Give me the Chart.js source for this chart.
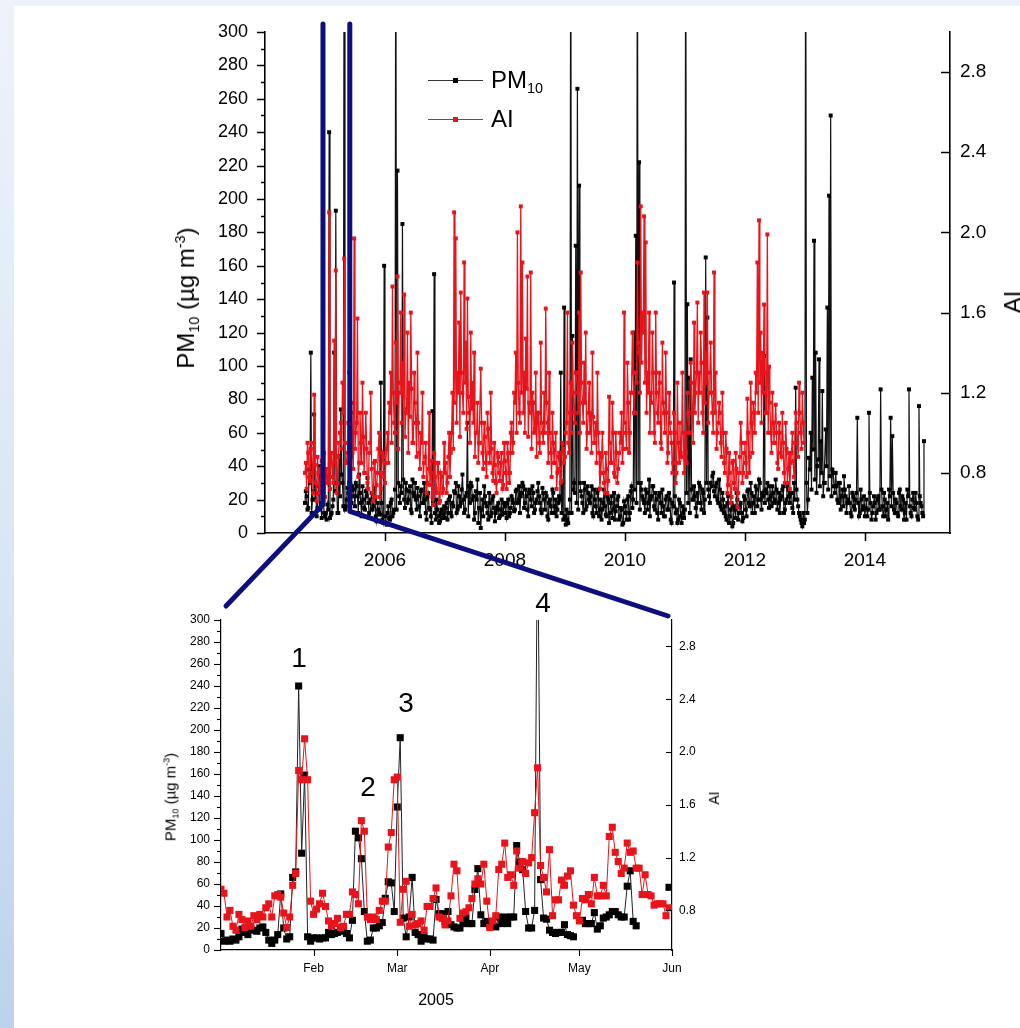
<!DOCTYPE html>
<html lang="en">
<head>
<meta charset="UTF-8">
<title>PM10 and aerosol index</title>
<script src="https://cdn.jsdelivr.net/npm/chart.js@4.4.1/dist/chart.umd.min.js"></script>
<style>
  html, body { margin: 0; padding: 0; }
  body {
    width: 1020px; height: 1028px; overflow: hidden; position: relative;
    background: linear-gradient(to bottom, #eef3fb 0%, #d9e6f5 55%, #bcd2ec 100%);
    font-family: 'Liberation Sans', Arial, sans-serif; color: #000;
  }
  .sheet { position: absolute; left: 14px; top: 6px; right: 0; bottom: 0; background: #fff; }
  canvas { position: absolute; left: 0; }
  #topChart { top: 0; }
  #zoomChart { top: 590px; }
  #links { top: 0; pointer-events: none; }
  .txt { position: absolute; white-space: nowrap; line-height: 1; }
  .vert { transform: translate(-50%, -50%) rotate(-90deg); }
  .mid { transform: translate(-50%, -50%); }
  .left { transform: translateY(-50%); }
  sub { font-size: 60%; line-height: 0; vertical-align: -0.35em; }
  sup { font-size: 60%; line-height: 0; vertical-align: 0.65em; }
  .key { position: absolute; height: 0; width: 55px; border-top: 1px solid; }
  .key i { position: absolute; left: 25px; top: -3px; width: 5px; height: 5px; }
</style>
</head>
<body>
<div class="sheet"></div>
<canvas id="topChart" width="1020" height="590"></canvas>
<canvas id="zoomChart" width="1020" height="438"></canvas>

<div class="txt vert" style="left:186px; top:298px; font-size:24px">PM<sub>10</sub> (µg m<sup>-3</sup>)</div>
<div class="txt vert" style="left:1013px; top:302px; font-size:24px">AI</div>

<div class="key" style="left:428px; top:80px; border-color:#333"><i style="background:#000"></i></div>
<div class="txt left" style="left:491px; top:80px; font-size:24px">PM<sub>10</sub></div>
<div class="key" style="left:428px; top:119px; border-color:#e3171d"><i style="background:#e3171d"></i></div>
<div class="txt left" style="left:491px; top:119px; font-size:24px">AI</div>

<div class="txt vert" style="left:170px; top:797px; font-size:15px">PM<sub>10</sub> (µg m<sup>-3</sup>)</div>
<div class="txt vert" style="left:714px; top:798px; font-size:14px">AI</div>
<div class="txt mid" style="left:436px; top:1000px; font-size:16px">2005</div>

<div class="txt mid" style="left:299px; top:658px; font-size:28px">1</div>
<div class="txt mid" style="left:368px; top:787px; font-size:28px">2</div>
<div class="txt mid" style="left:406px; top:703px; font-size:28px">3</div>
<div class="txt mid" style="left:543px; top:603px; font-size:28px">4</div>

<canvas id="links" width="1020" height="1028"></canvas>

<script>
// six samples per month from September 2004: "mid" values sit between the main ones
const topStart = 2004 + 8 / 12;

const pm10Top = [
  25, 14, 38, 108, 20, 71, 28, 15, 40, 18, 30, 12,
  12, 17, 240, 11, 16, 108, 193, 12, 46, 74, 30, 400, 16, 27, 30, 72, 28, 22, 30, 22, 35, 18, 28, 15, 25, 33, 12, 20, 14, 27, 10, 18, 12, 90, 8, 160,
  6, 12, 9, 18, 10, 14, 400, 217, 22, 28, 185, 20, 30, 18, 25, 14, 32, 22, 20, 27, 16, 25, 18, 30, 12, 22, 15, 10, 73, 155, 8, 14, 6, 12, 9, 16,
  15, 8, 20, 12, 18, 25, 30, 14, 22, 18, 35, 12, 22, 66, 28, 30, 20, 8, 25, 32, 15, 3, 20, 28, 18, 12, 24, 10, 20, 15, 12, 16, 9, 14, 11, 18,
  12, 18, 10, 15, 20, 13, 25, 18, 28, 22, 30, 15, 26, 14, 24, 20, 28, 12, 18, 25, 22, 14, 27, 20, 24, 10, 18, 16, 26, 12, 20, 14, 22, 96, 30, 135,
  5, 8, 12, 400, 118, 30, 172, 266, 208, 25, 18, 30, 14, 28, 20, 22, 12, 26, 16, 24, 10, 20, 14, 26, 11, 22, 6, 18, 9, 24, 13, 20, 8, 15, 5, 19,
  12, 20, 8, 25, 15, 120, 178, 400, 222, 30, 22, 18, 26, 14, 32, 20, 28, 16, 24, 12, 22, 18, 26, 10, 20, 14, 24, 8, 18, 150, 12, 6, 20, 10, 16, 9,
  400, 137, 93, 104, 20, 28, 15, 24, 30, 18, 26, 12, 165, 129, 22, 30, 34, 25, 28, 20, 32, 16, 24, 12, 10, 18, 6, 14, 4, 16, 9, 20, 12, 18, 7, 22,
  14, 25, 18, 30, 12, 22, 28, 16, 32, 20, 24, 106, 26, 30, 15, 22, 28, 18, 32, 14, 24, 20, 26, 12, 18, 28, 22, 24, 15, 30, 87, 20, 12, 8, 4, 6,
  400, 12, 45, 60, 93, 175, 108, 40, 104, 55, 85, 30, 62, 135, 202, 250, 38, 28, 36, 20, 30, 14, 26, 34, 22, 18, 28, 12, 24, 16, 20, 69, 10, 26, 14, 22,
  15, 10, 72, 18, 12, 22, 8, 20, 14, 86, 16, 24, 10, 18, 26, 69, 58, 14, 20, 12, 24, 16, 22, 8, 18, 26, 86, 12, 20, 15, 24, 10, 76, 18, 12, 55
];
const pm10TopMid = [
  18, 22, 15, 30, 12, 25, 20, 10, 24, 14, 9, 20,
  10, 8, 14, 9, 12, 20, 25, 30, 12, 22, 35, 16, 14, 20, 24, 30, 18, 26, 16, 28, 12, 24, 10, 20, 14, 22, 18, 9, 24, 16, 20, 7, 14, 11, 18, 6,
  10, 5, 16, 8, 20, 12, 26, 14, 30, 18, 24, 32, 15, 26, 20, 28, 12, 24, 30, 14, 22, 10, 26, 18, 20, 8, 24, 14, 6, 18, 12, 20, 10, 7, 14, 11,
  9, 18, 12, 22, 10, 16, 24, 12, 28, 16, 26, 20, 14, 24, 10, 18, 28, 22, 12, 20, 6, 24, 14, 10, 22, 16, 8, 18, 12, 22, 7, 14, 18, 10, 20, 12,
  16, 9, 20, 12, 22, 18, 14, 26, 20, 12, 24, 28, 18, 22, 10, 26, 16, 24, 14, 20, 30, 18, 12, 24, 14, 22, 8, 20, 12, 24, 16, 10, 18, 20, 12, 8,
  10, 14, 6, 20, 12, 26, 24, 18, 14, 30, 22, 12, 26, 16, 24, 18, 28, 10, 20, 12, 26, 14, 8, 18, 16, 10, 20, 12, 22, 14, 8, 16, 22, 10, 14, 6,
  16, 8, 22, 12, 28, 20, 26, 18, 30, 14, 26, 20, 12, 24, 18, 10, 22, 28, 14, 20, 8, 24, 12, 16, 10, 22, 14, 20, 6, 16, 22, 14, 8, 18, 6, 12,
  14, 24, 18, 12, 26, 20, 22, 10, 18, 28, 14, 24, 20, 30, 26, 18, 28, 36, 22, 30, 18, 26, 14, 20, 16, 8, 22, 10, 18, 6, 14, 24, 8, 16, 12, 9,
  20, 10, 26, 16, 24, 18, 12, 26, 20, 30, 14, 22, 18, 24, 20, 28, 16, 24, 20, 26, 18, 12, 22, 28, 14, 20, 26, 18, 24, 12, 20, 26, 16, 10, 6, 12,
  8, 30, 20, 38, 26, 50, 32, 24, 44, 28, 36, 22, 30, 40, 26, 34, 22, 36, 24, 28, 18, 30, 22, 16, 26, 12, 20, 18, 10, 22, 14, 24, 18, 12, 20, 16,
  10, 20, 14, 24, 8, 16, 18, 12, 22, 14, 26, 10, 20, 14, 8, 22, 16, 24, 12, 18, 10, 26, 14, 20, 12, 8, 22, 16, 10, 24, 14, 18, 8, 22, 16, 10
];

const aiTop = [
  0.85, 0.95, 0.78, 0.92, 0.80, 1.19, 0.75, 0.88, 0.70, 0.82, 0.72, 0.90,
  0.78, 0.75, 2.10, 0.85, 0.78, 1.46, 1.81, 0.75, 0.95, 1.05, 1.25, 1.87, 0.85, 0.90, 1.30, 1.10, 0.90, 1.97, 1.00, 1.57, 0.85, 0.95, 1.25, 0.80, 1.10, 0.75, 0.90, 1.20, 0.70, 0.85, 0.68, 0.80, 1.00, 0.72, 0.90, 0.78,
  0.85, 1.00, 1.15, 1.30, 1.73, 1.05, 1.45, 1.78, 1.20, 1.60, 1.35, 1.69, 1.10, 1.50, 1.25, 1.60, 0.95, 1.30, 1.05, 1.40, 0.90, 1.00, 1.20, 0.85, 0.95, 0.75, 1.10, 0.80, 0.68, 0.90, 0.72, 0.85, 0.65, 0.80, 0.70, 0.95,
  0.85, 0.75, 1.00, 0.90, 1.20, 2.10, 1.97, 1.30, 1.55, 1.70, 1.20, 1.85, 1.45, 1.67, 1.10, 1.50, 1.25, 1.40, 1.00, 1.15, 0.95, 1.32, 0.90, 1.05, 0.85, 1.10, 0.90, 1.20, 0.80, 0.95, 0.75, 0.90, 0.80, 0.85, 0.72, 0.95,
  0.80, 0.95, 0.75, 1.00, 0.90, 1.20, 1.40, 2.00, 1.10, 2.13, 1.85, 1.30, 1.47, 1.78, 1.15, 1.80, 1.20, 1.00, 1.30, 1.10, 0.95, 1.45, 1.00, 1.20, 1.62, 1.05, 1.30, 0.90, 1.10, 0.85, 1.00, 0.80, 0.90, 0.75, 0.95, 0.85,
  1.00, 1.60, 0.90, 1.25, 1.45, 1.10, 1.30, 1.20, 1.60, 1.80, 1.15, 1.35, 1.50, 1.00, 1.25, 1.10, 1.40, 0.95, 1.05, 1.30, 0.90, 0.80, 1.00, 0.75, 0.90, 0.70, 1.18, 0.85, 1.15, 0.80, 1.00, 0.75, 0.90, 0.95, 0.85, 1.60,
  1.00, 1.35, 0.90, 1.20, 1.50, 1.10, 1.30, 1.85, 1.40, 2.13, 1.60, 2.08, 1.95, 1.30, 1.60, 1.20, 1.50, 1.00, 1.60, 1.10, 1.30, 0.95, 1.45, 1.10, 1.40, 0.85, 1.20, 1.00, 0.80, 1.10, 0.75, 1.25, 0.85, 0.90, 1.30, 0.80,
  0.90, 1.20, 1.00, 1.35, 1.10, 1.55, 1.20, 1.65, 1.30, 1.50, 1.10, 1.70, 1.40, 1.70, 1.20, 1.45, 1.10, 1.80, 1.30, 1.00, 1.15, 0.95, 1.20, 0.85, 1.00, 0.70, 0.90, 0.65, 0.85, 0.75, 0.90, 0.63, 0.80, 1.05, 0.75, 0.90,
  0.85, 1.17, 0.80, 1.25, 0.90, 1.10, 1.30, 1.85, 2.06, 1.50, 1.40, 1.64, 1.10, 1.99, 1.33, 1.00, 1.20, 0.95, 1.14, 0.85, 1.05, 0.90, 1.10, 0.80, 1.05, 0.75, 0.90, 0.85, 1.00, 0.78, 1.10, 0.95, 1.25, 1.00, 1.20, 0.95
];
const aiTopMid = [
  0.80, 0.72, 0.90, 0.76, 0.95, 0.70, 0.84, 0.66, 0.80, 0.74, 0.86, 0.70,
  0.68, 0.82, 0.77, 0.72, 0.90, 0.75, 0.85, 0.70, 0.88, 1.00, 0.92, 1.10, 0.95, 0.85, 1.05, 0.88, 1.15, 0.82, 0.92, 1.05, 0.78, 1.10, 0.85, 0.98, 0.80, 0.92, 0.72, 0.95, 0.82, 0.66, 0.86, 0.74, 0.92, 0.68, 0.80, 0.88,
  0.75, 0.92, 0.85, 1.10, 0.95, 1.20, 1.00, 1.15, 0.92, 1.25, 1.05, 1.18, 0.98, 1.12, 0.90, 1.08, 1.22, 0.95, 1.15, 0.88, 1.05, 0.82, 0.95, 0.78, 0.88, 0.70, 0.82, 0.74, 0.86, 0.64, 0.78, 0.70, 0.85, 0.66, 0.78, 0.72,
  0.80, 0.70, 0.88, 0.78, 1.00, 0.92, 1.15, 1.05, 1.20, 0.98, 1.30, 1.10, 1.25, 1.02, 1.18, 0.95, 1.12, 1.05, 0.88, 1.00, 0.85, 0.95, 1.05, 0.82, 0.98, 0.78, 1.02, 0.85, 0.92, 0.76, 0.84, 0.70, 0.88, 0.76, 0.90, 0.74,
  0.86, 0.72, 0.90, 0.80, 1.05, 0.95, 1.15, 1.00, 1.25, 1.05, 1.20, 1.10, 1.00, 1.22, 0.98, 1.10, 0.92, 1.15, 1.02, 0.88, 1.10, 0.90, 1.05, 0.95, 1.00, 1.15, 0.85, 1.00, 0.78, 0.95, 0.85, 0.72, 0.88, 0.82, 0.76, 0.92,
  0.88, 1.05, 0.95, 1.10, 1.00, 1.20, 1.05, 1.30, 1.10, 1.00, 1.25, 1.05, 1.15, 0.92, 1.10, 1.00, 0.90, 1.08, 0.95, 0.85, 1.00, 0.72, 0.88, 0.80, 0.70, 0.82, 0.76, 0.95, 0.85, 1.00, 0.78, 0.90, 0.82, 1.00, 1.10, 0.92,
  1.05, 0.92, 1.15, 1.00, 1.20, 1.30, 1.10, 1.25, 1.45, 1.20, 1.35, 1.50, 1.25, 1.10, 1.20, 1.00, 1.15, 1.30, 0.95, 1.20, 1.05, 1.25, 0.92, 1.15, 1.00, 1.10, 0.90, 1.05, 0.95, 0.85, 1.00, 0.80, 0.95, 1.05, 0.88, 1.00,
  1.00, 0.85, 1.10, 1.00, 1.25, 0.95, 1.10, 1.30, 1.05, 1.20, 1.35, 1.00, 1.15, 1.25, 1.05, 1.30, 1.20, 1.00, 1.10, 0.92, 1.05, 1.10, 0.88, 1.00, 0.80, 0.92, 0.74, 0.80, 0.68, 0.86, 0.72, 0.82, 0.70, 0.88, 0.95, 0.80,
  0.95, 0.78, 1.00, 0.88, 1.05, 1.15, 1.00, 1.20, 1.10, 1.25, 1.05, 1.20, 1.30, 1.10, 1.00, 1.15, 0.90, 1.05, 0.95, 1.00, 0.82, 1.00, 0.88, 0.95, 0.75, 0.92, 0.82, 0.72, 0.90, 0.86, 0.95, 1.05, 0.88, 1.10, 0.92, 1.05
];

// daily values, 1 January to 1 June 2005 (day 0 = 1 Jan)
const zoomDays = 151;
const pm10Daily = [
  15, 8, 9, 8, 10, 9, 12, 19, 16, 14,
  19, 18, 17, 20, 21, 16, 9, 6, 9, 14,
  51, 20, 10, 12, 66, 71, 240, 88, 159, 12,
  8, 11, 11, 10, 11, 11, 16, 14, 15, 16,
  17, 18, 15, 11, 27, 108, 102, 83, 35, 8,
  9, 20, 20, 22, 25, 47, 62, 61, 35, 130,
  193, 29, 12, 30, 66, 16, 14, 8, 12, 10,
  10, 9, 46, 33, 33, 26, 35, 23, 21, 20,
  20, 24, 29, 24, 24, 55, 74, 32, 24, 26,
  22, 22, 21, 30, 24, 30, 24, 30, 30, 95,
  80, 73, 35, 20, 20, 36, 400, 64, 29, 28,
  18, 16, 15, 16, 16, 23, 14, 13, 12, null,
  null, 27, 24, 24, 24, 34, 19, 22, 29, 30,
  32, 35, 35, 32, 30, 30, 58, 72, 26, 22,
  null, null, null, null, null, null, null, null, null, null,
  57
];
const aiDaily = [
  0.96, 0.93, 0.75, 0.80, 0.68, 0.65, 0.77, 0.73, 0.67, 0.72,
  0.68, 0.76, 0.73, 0.77, 0.75, 0.82, 0.85, 0.75, 0.91, 0.92,
  0.90, 0.78, 0.67, 0.75, 0.99, 1.08, 1.86, 1.79, 2.10, 1.79,
  0.87, 0.77, 0.81, 0.85, 0.93, 0.83, 0.72, 0.68, 0.70, 0.74,
  0.67, 0.68, 0.77, 0.77, 0.94, 0.92, 0.85, 1.48, 1.40, 0.75,
  0.73, 0.75, 0.73, 0.80, 0.87, 0.87, 1.28, 1.39, 1.79, 1.81,
  0.71, 0.96, 1.02, 0.68, 0.77, 0.69, 0.70, 0.72, 0.65, 0.83,
  0.83, 0.89, 0.97, 0.75, 0.74, 0.69, 0.72, 0.91, 1.15, 1.10,
  0.74, 0.78, 0.79, 0.82, 0.89, 1.00, 1.04, 1.00, 1.15, 0.87,
  0.67, 0.72, 0.76, 1.11, 1.15, 1.31, 1.05, 1.07, 0.99, 1.25,
  1.12, 1.17, 1.08, 1.16, 1.20, 1.54, 1.88, 1.14, 1.05, 0.94,
  1.26, 0.76, 0.88, 0.88, 1.03, 0.99, 1.06, 1.10, 0.84, 0.76,
  0.72, 0.89, 0.88, 0.92, 0.85, 1.05, 0.91, 0.91, 0.99, 0.91,
  1.36, 1.43, 1.24, 1.17, 1.08, 1.12, 1.31, 1.24, 1.25, 1.12,
  1.12, 0.92, 1.07, 0.92, 0.91, 0.84, 0.85, 0.85, 0.85, 0.76,
  0.82
];

const yearTicks = [2006, 2008, 2010, 2012, 2014];
const pmTicks = [0, 20, 40, 60, 80, 100, 120, 140, 160, 180, 200, 220, 240, 260, 280, 300];
const aiTicks = [0.8, 1.2, 1.6, 2.0, 2.4, 2.8];
const monthTicks = [31, 59, 90, 120, 151];
const monthLabels = ['Feb', 'Mar', 'Apr', 'May', 'Jun'];

const RED = '#e8141b';
const FONT = "'Liberation Sans', Arial, sans-serif";
const pmMinor = pmTicks.slice(1).map((v, i) => (v + pmTicks[i]) / 2);

// tick marks drawn by hand: major/minor lengths, negative length points into the plot
const axisTicks = {
  id: 'axisTicks',
  afterDraw(chart, args, opts) {
    const ctx = chart.ctx;
    ctx.save();
    ctx.strokeStyle = '#000';
    ctx.lineWidth = opts.width;
    for (const id in opts.scales) {
      const s = chart.scales[id];
      const spec = opts.scales[id];
      const mark = (v, len) => {
        const p = Math.round(s.getPixelForValue(v)) + 0.5;
        ctx.beginPath();
        if (s.isHorizontal()) {
          ctx.moveTo(p, s.top);
          ctx.lineTo(p, s.top + len);
        } else if (s.position === 'left') {
          ctx.moveTo(s.right, p);
          ctx.lineTo(s.right - len, p);
        } else {
          ctx.moveTo(s.left, p);
          ctx.lineTo(s.left + len, p);
        }
        ctx.stroke();
      };
      spec.major.forEach(v => mark(v, spec.len));
      (spec.minor || []).forEach(v => mark(v, spec.minorLen));
    }
    ctx.restore();
  }
};

function scaleBase(size, pad, bw) {
  return {
    grid: { drawOnChartArea: false, drawTicks: false },
    border: { color: '#000', width: bw },
    ticks: { color: '#000', font: { family: FONT, size: size }, padding: pad, autoSkip: false, maxRotation: 0 }
  };
}
function withTicks(base, list, cb) {
  base.afterBuildTicks = s => { s.ticks = list.map(v => ({ value: v })); };
  base.ticks.callback = cb;
  return base;
}

// main and mid samples merged into one time-ordered series
function topSeries(main, mid) {
  const pts = [];
  main.forEach((v, i) => {
    pts.push({ x: topStart + i / 36, y: mid[i] });
    pts.push({ x: topStart + (i + 0.5) / 36, y: v });
  });
  return pts;
}
const topPm = topSeries(pm10Top, pm10TopMid);
const topAi = topSeries(aiTop, aiTopMid);

const topX = withTicks(scaleBase(19, 16, 1.6), yearTicks, v => String(v));
Object.assign(topX, { type: 'linear', min: 2004, max: 2015.42, afterFit: s => { s.height = 590 - 533; } });
const topPmAxis = withTicks(scaleBase(18, 17, 1.6), pmTicks, v => String(v));
Object.assign(topPmAxis, { position: 'left', min: 0, max: 300, afterFit: s => { s.width = 265; } });
const topAiAxis = withTicks(scaleBase(19, 10, 1.6), aiTicks, v => v.toFixed(1));
Object.assign(topAiAxis, { position: 'right', min: 0.5, max: 3.0, afterFit: s => { s.width = 70; } });

const topChart = new Chart(document.getElementById('topChart'), {
  type: 'line',
  data: {
    datasets: [
      { label: 'AI', data: topAi, yAxisID: 'ai', borderColor: RED, backgroundColor: RED,
        borderWidth: 1.3, pointStyle: 'rect', pointRadius: 2.8, pointBorderWidth: 0, order: 0 },
      { label: 'PM10', data: topPm, yAxisID: 'pm', borderColor: '#111', backgroundColor: '#000',
        borderWidth: 1.2, pointStyle: 'rect', pointRadius: 2.8, pointBorderWidth: 0, order: 1 }
    ]
  },
  options: {
    responsive: false,
    animation: false,
    events: [],
    layout: { padding: { top: 32, left: 0, right: 0, bottom: 0 } },
    elements: { line: { tension: 0 } },
    scales: { x: topX, pm: topPmAxis, ai: topAiAxis },
    plugins: {
      legend: { display: false },
      tooltip: { enabled: false },
      axisTicks: {
        width: 1.5,
        scales: {
          x: { major: yearTicks, len: 8 },
          pm: { major: pmTicks, len: 8, minor: pmMinor, minorLen: 4 },
          ai: { major: aiTicks, len: -9 }
        }
      }
    }
  },
  plugins: [axisTicks]
});

const zoomPm = pm10Daily.map((v, i) => ({ x: i, y: v }));
const zoomAi = aiDaily.map((v, i) => ({ x: i, y: v }));

const zX = withTicks(scaleBase(12, 11, 1.2), monthTicks, (v, i) => monthLabels[i]);
Object.assign(zX, { type: 'linear', min: 0, max: zoomDays, afterFit: s => { s.height = 438 - 360; } });
const zPm = withTicks(scaleBase(12, 11, 1.2), pmTicks, v => String(v));
Object.assign(zPm, { position: 'left', min: 0, max: 300, afterFit: s => { s.width = 221; } });
const zAi = withTicks(scaleBase(12, 7, 1.2), aiTicks, v => v.toFixed(1));
Object.assign(zAi, { position: 'right', min: 0.5, max: 3.0, afterFit: s => { s.width = 1020 - 672; } });

const zoomChart = new Chart(document.getElementById('zoomChart'), {
  type: 'line',
  data: {
    datasets: [
      { label: 'AI', data: zoomAi, yAxisID: 'ai', borderColor: RED, backgroundColor: RED,
        borderWidth: 1, pointStyle: 'rect', pointRadius: 5, pointBorderWidth: 0, order: 0 },
      { label: 'PM10', data: zoomPm, yAxisID: 'pm', borderColor: '#222', backgroundColor: '#000',
        borderWidth: 1, pointStyle: 'rect', pointRadius: 5, pointBorderWidth: 0, order: 1 }
    ]
  },
  options: {
    responsive: false,
    animation: false,
    events: [],
    layout: { padding: { top: 30, left: 0, right: 0, bottom: 0 } },
    elements: { line: { tension: 0 } },
    scales: { x: zX, pm: zPm, ai: zAi },
    plugins: {
      legend: { display: false },
      tooltip: { enabled: false },
      axisTicks: {
        width: 1.1,
        scales: {
          x: { major: monthTicks, len: 6 },
          pm: { major: pmTicks, len: 7, minor: pmMinor, minorLen: 4 },
          ai: { major: aiTicks, len: -6 }
        }
      }
    }
  },
  plugins: [axisTicks]
});

// navy connectors from the January–June 2005 window to the lower panel
(function drawLinks() {
  const ctx = document.getElementById('links').getContext('2d');
  const tx = topChart.scales.x;
  const ty = topChart.scales.pm;
  const ta = topChart.chartArea;
  const za = zoomChart.chartArea;
  const offY = 590;
  const xL = tx.getPixelForValue(2005) - 2;
  const xR = tx.getPixelForValue(2005 + zoomDays / 365);
  ctx.strokeStyle = '#0d0f7e';
  ctx.lineWidth = 5;
  ctx.lineCap = 'round';
  ctx.lineJoin = 'round';
  ctx.beginPath();
  ctx.moveTo(xL, ta.top - 8);
  ctx.lineTo(xL, ty.getPixelForValue(17));
  ctx.lineTo(za.left + 5, offY + za.top - 14);
  ctx.stroke();
  ctx.beginPath();
  ctx.moveTo(xR, ta.top - 8);
  ctx.lineTo(xR, ty.getPixelForValue(13));
  ctx.lineTo(za.right - 4, offY + za.top - 4);
  ctx.stroke();
})();
</script>
</body>
</html>
